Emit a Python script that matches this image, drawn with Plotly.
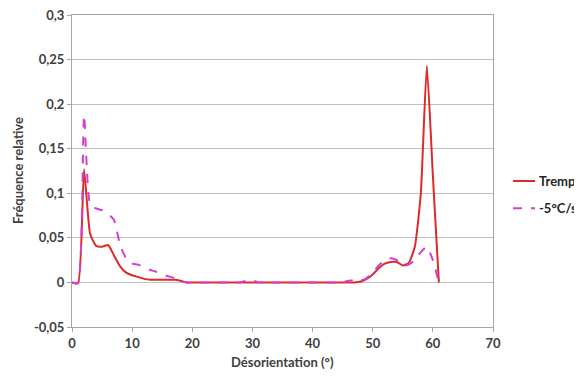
import plotly.graph_objects as go

desorientation = list(range(0, 62))

trempe = [0, -0.001, 0.127, 0.055, 0.041, 0.040, 0.042, 0.030, 0.018, 0.011,
          0.008, 0.006, 0.004, 0.003, 0.003, 0.003, 0.003, 0.003, 0.002, 0,
          0, 0, 0, 0, 0, 0, 0, 0, 0, 0,
          0, 0, 0, 0, 0, 0, 0, 0, 0, 0,
          0, 0, 0, 0, 0, 0, 0, 0, 0.001, 0.004,
          0.009, 0.016, 0.021, 0.023, 0.023, 0.019, 0.022, 0.040, 0.100, 0.243,
          0.120, 0]

moins5 = [0, -0.001, 0.188, 0.088, 0.083, 0.081, 0.077, 0.070, 0.042, 0.027,
          0.021, 0.020, 0.017, 0.014, 0.012, 0.009, 0.007, 0.005, 0.002, 0,
          0, 0, 0, 0, 0, 0, 0, 0, 0, 0.002,
          0.002, 0, 0, 0, 0, 0, 0, 0, 0, 0,
          0, 0, 0, 0, 0, 0, 0.002, 0.002, 0.002, 0.005,
          0.011, 0.019, 0.025, 0.027, 0.025, 0.019, 0.020, 0.025, 0.034, 0.040,
          0.025, 0]

series_names = ["Trempe", "-5°C/s"]
series_colors = ["#DD2A2A", "#D040D0"]
series_dashes = ["solid", "dash"]

y_tickvals = [-0.05, 0, 0.05, 0.1, 0.15, 0.2, 0.25, 0.3]
y_ticktext = ["-0,05", "0", "0,05", "0,1", "0,15", "0,2", "0,25", "0,3"]
x_tickvals = [0, 10, 20, 30, 40, 50, 60, 70]

font_family = "Lato, 'Open Sans', sans-serif"
text_color = "#404040"
title_font = dict(family=font_family, size=13, color=text_color, weight="bold")
legend_font = dict(family=font_family, size=13, color="#262626", weight="bold")

fig = go.Figure()
for name, values, color, dash in zip(series_names, [trempe, moins5], series_colors, series_dashes):
    fig.add_trace(go.Scatter(
        x=desorientation, y=values, name=name, mode="lines",
        line=dict(color=color, width=2, dash=dash, shape="spline", smoothing=0.5),
    ))

axis_common = dict(
    showline=True, linecolor="#A6A6A6", linewidth=1, mirror=True,
    ticks="outside", ticklen=4, tickcolor="#A6A6A6",
    tickfont=dict(family=font_family, size=13, color=text_color, weight="bold"),
    zeroline=False, automargin=False, ticklabeloverflow="allow",
)

# Legend drawn as keys + labels in the right margin (Excel-style compact legend)
legend_y = [0.468, 0.381]
shapes = []
annotations = []
for name, color, dash, ly in zip(series_names, series_colors, series_dashes, legend_y):
    shapes.append(dict(type="line", xref="paper", yref="paper",
                       x0=1.0475, x1=1.100, y0=ly, y1=ly,
                       line=dict(color=color, width=2, dash=dash)))
    annotations.append(dict(text=name, xref="paper", yref="paper",
                            x=1.105, y=ly, xanchor="left", yanchor="middle",
                            showarrow=False, font=legend_font))

annotations += [
    dict(text="Désorientation (°)", xref="paper", yref="paper",
         x=0.5, y=-0.112, xanchor="center", yanchor="middle",
         showarrow=False, font=title_font),
    dict(text="Fréquence relative", xref="paper", yref="paper",
         x=-0.128, y=0.5, xanchor="center", yanchor="middle",
         textangle=-90, showarrow=False, font=title_font),
]

# Page body has an 8px margin; figure sized so the page does not overflow the 582x377 window
fig.update_layout(
    width=566, height=361,
    margin=dict(l=64, r=81, t=7, b=42),
    paper_bgcolor="white", plot_bgcolor="white",
    font=dict(family=font_family, color=text_color),
    xaxis=dict(range=[0, 70], tickvals=x_tickvals, showgrid=False, **axis_common),
    yaxis=dict(
        range=[-0.05, 0.3], tickvals=y_tickvals, ticktext=y_ticktext,
        showgrid=True, gridcolor="#BFBFBF", gridwidth=1,
        **axis_common,
    ),
    showlegend=False,
    shapes=shapes,
    annotations=annotations,
)

fig.write_html("out.html")
